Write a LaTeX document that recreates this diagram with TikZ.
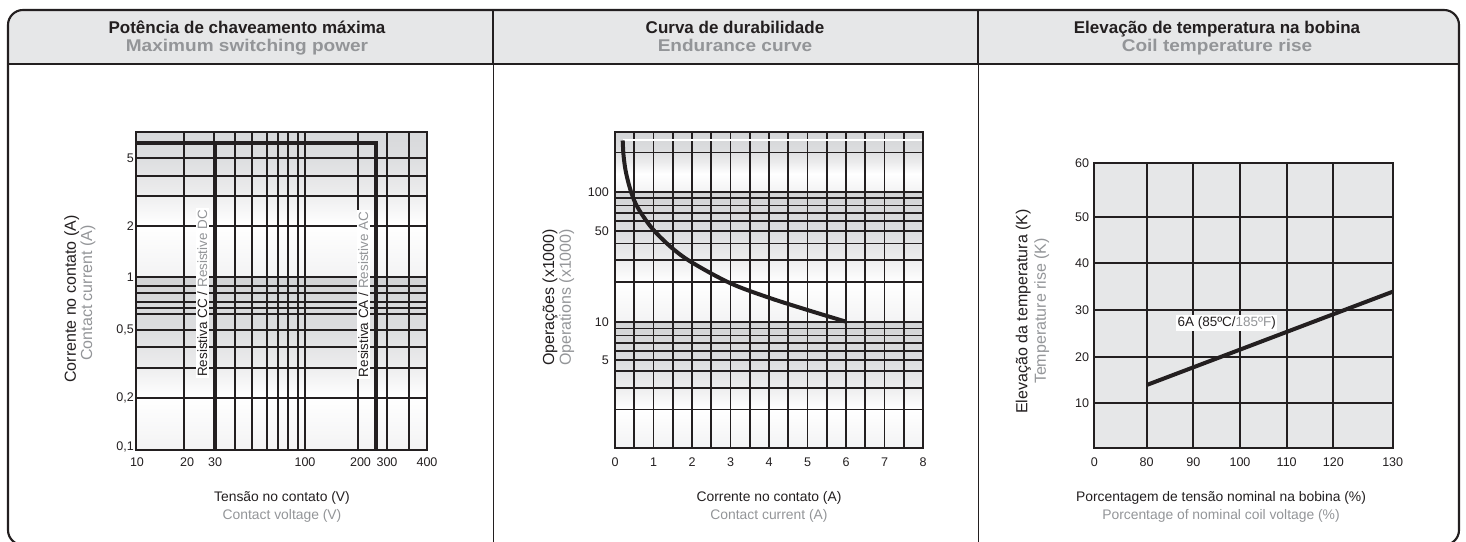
\documentclass[tikz,border=0pt]{standalone}
\usepackage{fontspec}
\setmainfont{Liberation Sans}
\newfontfamily\subfont[FakeStretch=1.12]{Liberation Sans}
\definecolor{ink}{HTML}{231F20}
\definecolor{sub}{HTML}{939598}
\definecolor{hdr}{HTML}{E6E7E8}
\definecolor{plotbg}{HTML}{E6E7E8}
\definecolor{shZ}{HTML}{D3D4D6}
\definecolor{shA}{HTML}{DCDDDF}
\definecolor{shB}{HTML}{EBEBEC}
\definecolor{shW}{HTML}{F3F3F4}
\pgfdeclareverticalshading{decade}{100bp}{color(0bp)=(shW); color(25bp)=(shW); color(40bp)=(white); color(50bp)=(shB); color(60bp)=(shA); color(75bp)=(shZ); color(100bp)=(shZ)}
\begin{document}
\begin{tikzpicture}[x=0.75pt,y=-0.75pt,
  tick/.style={inner sep=0pt, text=ink, font=\fontsize{9.4}{11}\selectfont},
  rottitle/.style={inner sep=0pt, rotate=90, font=\fontsize{12}{14}\selectfont},
  xtitle/.style={inner sep=0pt, font=\fontsize{10.4}{12}\selectfont},
  hdrtitle/.style={inner sep=0pt, anchor=base, text=ink, font=\bfseries\fontsize{12.75}{15}\selectfont},
  hdrsub/.style={inner sep=0pt, anchor=base, text=sub, font=\subfont\bfseries\fontsize{12.75}{15}\selectfont},
  grid/.style={draw=ink, line width=1.3pt},
  plotframe/.style={draw=ink, line width=1.6pt},
  heavy/.style={draw=ink, line width=3pt},
  lbl/.style={fill=white, inner sep=1.2pt, text=ink, font=\fontsize{10.1}{12}\selectfont}]
\useasboundingbox (0,0) rectangle (1466,542);
% ---------- frame and header ----------
\begin{scope}
  \clip (0,0) rectangle (1466,64);
  \fill[hdr, rounded corners=11.25pt] (8,10) rectangle (1459,120);
\end{scope}
\draw[ink, line width=2.2pt] (8,64) -- (1459,64);
\draw[ink, line width=1.1pt] (493,10) -- (493,64) (978,10) -- (978,64);
\draw[ink, line width=0.75pt] (493,64) -- (493,545) (978,64) -- (978,545);
\draw[ink, line width=1.6pt, rounded corners=11.25pt] (8,10) rectangle (1459,545);
\node[hdrtitle] (h1a) at (247,33.3) {Potência de chaveamento máxima};
\node[hdrsub] (h1b) at (247,51.7) {Maximum switching power};
\node[hdrtitle] (h2a) at (735,33.3) {Curva de durabilidade};
\node[hdrsub] (h2b) at (735,51.7) {Endurance curve};
\node[hdrtitle] (h3a) at (1217,33.3) {Elevação de temperatura na bobina};
\node[hdrsub] (h3b) at (1217,51.7) {Coil temperature rise};
% ---------- chart 1 ----------
\begin{scope}
  \clip (136,132) rectangle (427,450);
  \shade[shading=decade] (136,103.7) rectangle (427,276.7);
  \shade[shading=decade] (136,276.7) rectangle (427,449.7);
\end{scope}
\foreach \x in {184,214,235,251.7,266.7,277.7,288.3,297.7,305,357.7,386.7,409}
  \draw[grid] (\x,132) -- (\x,450);
\foreach \y in {158.3,176,196,226,276.7,286,293.3,301.7,308.3,314,330,346.7,368.3,397.7}
  \draw[grid] (136,\y) -- (427,\y);
\draw[plotframe] (136,132) rectangle (427,450);
\draw[heavy, line join=miter] (136,142.7) -- (375.8,142.7) -- (375.8,450);
\draw[heavy] (214.7,142.7) -- (214.7,450);
\node[lbl, rotate=90] (dc) at (202.3,293.3) {Resistiva CC / \textcolor{sub}{Resistive DC}};
\node[lbl, rotate=90] (ac) at (363.3,294.5) {Resistiva CA / \textcolor{sub}{Resistive AC}};
\foreach \y/\t [count=\i] in {158.3/5, 226/2, 276.7/1, 330/{0,5}, 397.7/{0,2}, 447/{0,1}}
  \node[tick, anchor=east] (c1y\i) at (134,\y) {\t};
\foreach \x/\t [count=\i] in {137/10, 187/20, 215/30, 305/100, 360.5/200, 387/300, 427/400}
  \node[tick] (c1x\i) at (\x,462) {\t};
\node[rottitle, text=ink] (c1ta) at (71.7,299) {Corrente no contato (A)};
\node[rottitle, text=sub] (c1tb) at (88,293) {Contact current (A)};
\node[xtitle, text=ink] (c1xa) at (282,498) {Tensão no contato (V)};
\node[xtitle, text=sub] (c1xb) at (282,516) {Contact voltage (V)};
% ---------- chart 2 ----------
\begin{scope}
  \clip (615,131.7) rectangle (923,448);
  \shade[shading=decade] (615,131.7) rectangle (923,191.7);
  \shade[shading=decade] (615,191.7) rectangle (923,321.7);
  \shade[shading=decade] (615,321.7) rectangle (923,448);
\end{scope}
\foreach \k in {1,...,15}
  \draw[grid] ({615+19.25*\k},131.7) -- ({615+19.25*\k},448);
\foreach \y in {152.6,191.7,198.3,205.5,212.8,221.2,231.2,243.4,260.2,282.2,321.7,328.6,335.5,343.3,351,360,371.2,388.3,409.5}
  \draw[grid] (615,\y) -- (923,\y);
\draw[plotframe] (615,131.7) rectangle (923,448);
\draw[white, line width=1.1pt] (623,140) -- (922,140);
\draw[heavy, line cap=butt] plot[smooth, tension=0.55] coordinates {(622.7,140.5) (623.5,155) (625.5,170) (629,185) (634,200) (641,213) (653.5,230) (672,248) (692,262.5) (730.5,283.3) (769,297.7) (807.5,310) (846,321.7)};
\foreach \y/\t [count=\i] in {191.7/100, 231/50, 321.7/10, 360/5}
  \node[tick, anchor=east] (c2y\i) at (609,\y) {\t};
\foreach \k in {0,...,8}
  \node[tick] (c2x\k) at ({615+38.5*\k},462) {\k};
\node[rottitle, text=ink] (c2ta) at (550,297.5) {Operações (x1000)};
\node[rottitle, text=sub] (c2tb) at (566.7,297.5) {Operations (x1000)};
\node[xtitle, text=ink] (c2xa) at (769,498) {Corrente no contato (A)};
\node[xtitle, text=sub] (c2xb) at (769,516) {Contact current (A)};
% ---------- chart 3 ----------
\fill[plotbg] (1094.3,163.3) rectangle (1392.7,448.3);
\foreach \x in {1146.7,1193.3,1240,1286.7,1333.3}
  \draw[grid] (\x,163.3) -- (\x,448.3);
\foreach \y in {216.7,263.3,310,356.7,403.3}
  \draw[grid] (1094.3,\y) -- (1392.7,\y);
\draw[plotframe] (1094.3,163.3) rectangle (1392.7,448.3);
\draw[heavy] (1146.7,385) -- (1392.7,291.7);
\node[lbl] (t6a) at (1226.7,322.7) {6A (85ºC/\textcolor{sub}{185ºF})};
\foreach \y/\t [count=\i] in {163.3/60, 216.7/50, 263.3/40, 310/30, 356.7/20, 403.3/10}
  \node[tick, anchor=east] (c3y\i) at (1089.3,\y) {\t};
\foreach \x/\t [count=\i] in {1094.3/0, 1146.7/80, 1193.3/90, 1240/100, 1286.7/110, 1333.3/120, 1392.7/130}
  \node[tick] (c3x\i) at (\x,462) {\t};
\node[rottitle, text=ink] (c3ta) at (1023.3,311.5) {Elevação da temperatura (K)};
\node[rottitle, text=sub] (c3tb) at (1041.7,311) {Temperature rise (K)};
\node[xtitle, text=ink] (c3xa) at (1221,498) {Porcentagem de tensão nominal na bobina (\%)};
\node[xtitle, text=sub] (c3xb) at (1221,516) {Porcentage of nominal coil voltage (\%)};
\end{tikzpicture}
\end{document}
